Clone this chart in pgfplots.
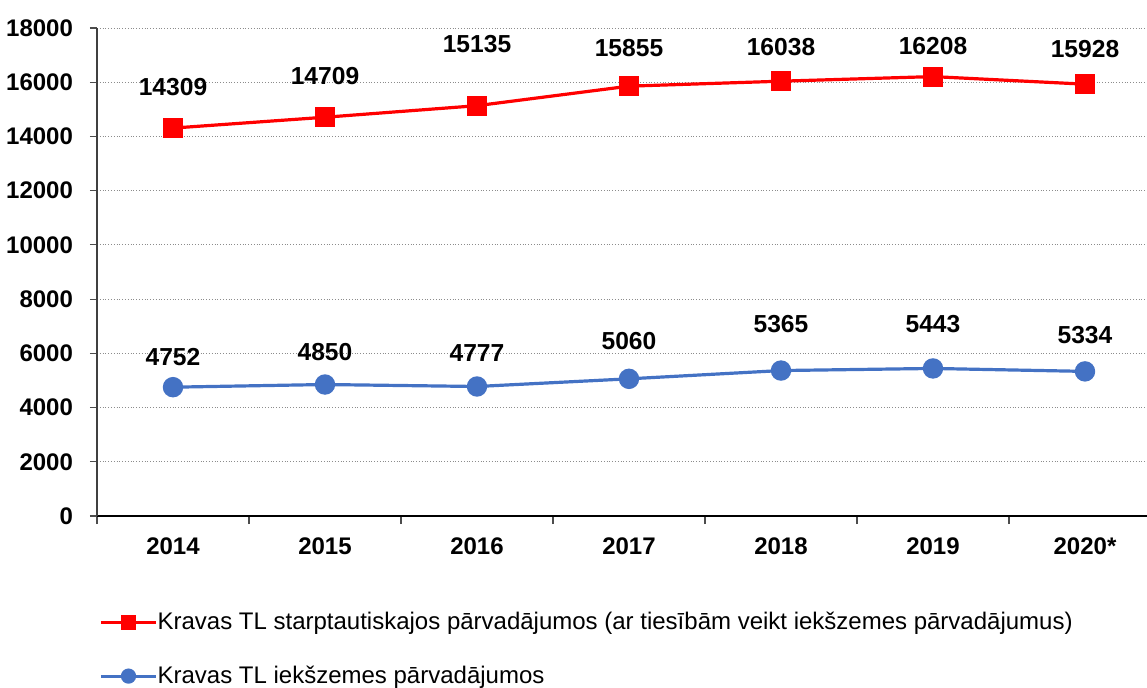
\documentclass[border=0pt]{standalone}
\usepackage{fontspec}
\setmainfont{Liberation Sans}
\usepackage{pgfplots}
\usepackage{pgfplotstable}
\pgfplotsset{compat=1.18}

\definecolor{redline}{RGB}{255,0,0}
\definecolor{blueline}{RGB}{68,114,196}

% x, value, label shift (pt), label
\pgfplotstableread{
x y dy lab
0 14309 20.5 14309
1 14709 20.5 14709
2 15135 31 15135
3 15855 19 15855
4 16038 17 16038
5 16208 15.5 16208
6 15928 17.5 15928
}\starptaut

\pgfplotstableread{
x y dy lab
0 4752 15 4752
1 4850 16 4850
2 4777 16.5 4777
3 5060 19 5060
4 5365 23.5 5365
5 5443 22 5443
6 5334 18 5334
}\iekszemes

\begin{document}
\begin{tikzpicture}
\useasboundingbox (-48.5pt,-85.5pt) rectangle (525pt,258pt);
\begin{axis}[
    at={(0,0)}, anchor=south west,
    scale only axis,
    width=532pt, height=244pt,
    xmin=-0.5, xmax=6.5,
    ymin=0, ymax=18000,
    ytick distance=2000,
    scaled y ticks=false,
    xtick={0,...,6},
    xticklabels={2014,2015,2016,2017,2018,2019,2020*},
    minor xtick={-0.5,0.5,...,6.5},
    axis x line=bottom, axis y line=left,
    axis line style={-},
    x axis line style={black, line width=0.8pt},
    y axis line style={black!75, line width=0.6pt},
    tick align=outside,
    major tick length=3.5pt,
    minor tick length=4pt,
    major x tick style={draw=none},
    minor x tick style={black!70, line width=0.6pt},
    major y tick style={black!70, line width=0.6pt},
    ymajorgrids,
    major grid style={densely dotted, black!45, line width=0.5pt},
    /pgf/number format/1000 sep={},
    /pgf/number format/assume math mode=true,
    ticklabel style={font=\bfseries\fontsize{12}{14}\selectfont},
    yticklabel style={xshift=-5pt},
    xticklabel style={yshift=-4pt},
    nodes near coords,
    point meta=explicit symbolic,
    every node near coord/.append style={anchor=center, font=\bfseries\fontsize{12.3}{14}\selectfont, text=black},
    visualization depends on={\thisrow{dy} \as \dy},
    clip=false,
    legend cell align=left,
    legend style={at={(0,0)}, anchor=north west, xshift=-2pt, yshift=-44pt,
        draw=none, fill=none, font=\fontsize{12}{14}\selectfont,
        row sep=12.5pt, /tikz/every odd column/.append style={column sep=-2pt}},
    legend image code/.code={\draw[mark repeat=2,mark phase=2, mark size=3pt]
        plot coordinates {(0pt,0pt) (13.75pt,0pt) (27.5pt,0pt)};},
]
\addplot[redline, line width=1.6pt, mark=square*, mark size=4.2pt,
    every node near coord/.append style={yshift=\dy pt}]
    table[x=x, y=y, meta=lab] {\starptaut};
\addlegendentry{Kravas TL starptautiskajos pārvadājumos (ar tiesībām veikt iekšzemes pārvadājumus)}
\addplot[blueline, line width=1.6pt, mark=*, mark size=4.3pt,
    every node near coord/.append style={yshift=\dy pt}]
    table[x=x, y=y, meta=lab] {\iekszemes};
\addlegendentry{Kravas TL iekšzemes pārvadājumos}
\end{axis}
\end{tikzpicture}
\end{document}
